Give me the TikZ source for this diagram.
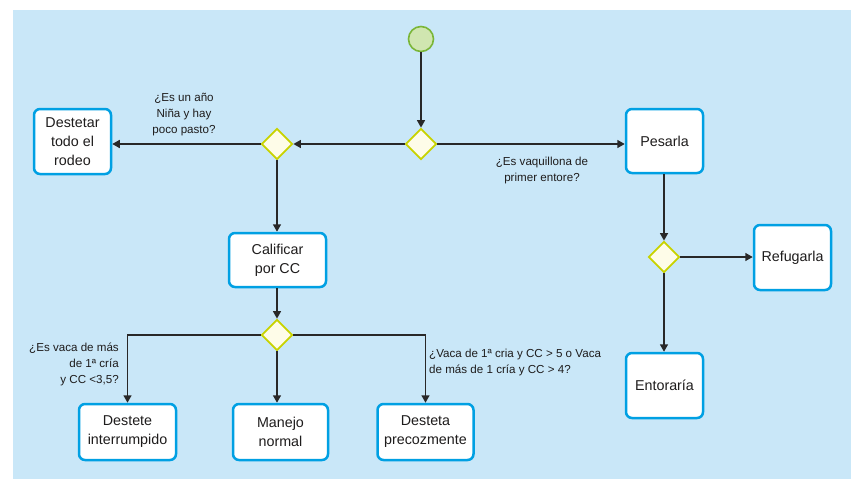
\documentclass[tikz,border=0pt]{standalone}
\usepackage{fontspec}
\setmainfont{Liberation Sans}
\usetikzlibrary{shapes.geometric,arrows.meta}
\definecolor{bgblue}{RGB}{201,231,248}
\definecolor{boxblue}{RGB}{0,160,227}
\definecolor{dfill}{RGB}{254,252,232}
\definecolor{dline}{RGB}{200,211,0}
\definecolor{sfill}{RGB}{208,230,176}
\definecolor{sline}{RGB}{122,182,56}
\definecolor{ink}{RGB}{30,28,28}
\definecolor{wire}{RGB}{40,40,40}
\tikzset{
  stepbox/.style={draw=boxblue, line width=2.5pt, fill=white, rounded corners=6pt,
    align=center, text=ink, inner sep=0pt, font=\fontsize{14.3}{19}\selectfont},
  decision/.style={diamond, aspect=1, draw=dline, line width=1.8pt, fill=dfill,
    minimum width=31pt, minimum height=31pt, inner sep=0pt},
  startnode/.style={circle, draw=sline, line width=1.6pt, fill=sfill, minimum size=25pt, inner sep=0pt},
  flow/.style={draw=wire, line width=1.5pt, -{Triangle[length=7.5pt,width=8pt]}},
  lbl/.style={text=ink, font=\fontsize{11.6}{16.2}\selectfont, inner sep=0pt}
}
\begin{document}
\begin{tikzpicture}[x=1pt,y=-1pt]
\useasboundingbox (0,0) rectangle (851,479);
\fill[bgblue] (13,10) rectangle (851,479);

\node[startnode] (start) at (421,39) {};
\node[decision] (d1) at (421,144) {};
\node[decision] (d2) at (277,144) {};
\node[decision] (d3) at (664,257) {};
\node[decision] (d4) at (277,335) {};

\node[stepbox, minimum width=77pt, minimum height=65pt] (destetar) at (72.5,141.5) {Destetar\\todo el\\rodeo};
\node[stepbox, minimum width=77pt, minimum height=64pt] (pesarla) at (664.5,141) {Pesarla};
\node[stepbox, minimum width=77pt, minimum height=65pt] (refug) at (792.5,257.5) {Refugarla};
\node[stepbox, minimum width=77pt, minimum height=65pt] (entor) at (664.5,385.5) {Entoraría};
\node[stepbox, minimum width=97pt, minimum height=54pt] (calif) at (277.5,260) {Calificar\\por CC};
\node[stepbox, minimum width=97pt, minimum height=56pt] (destete) at (127.5,432) {Destete\\interrumpido};
\node[stepbox, minimum width=95pt, minimum height=56pt] (manejo) at (280.5,432) {Manejo\\normal};
\node[stepbox, minimum width=96pt, minimum height=56pt] (desteta) at (425.5,432) {Desteta\\precozmente};

\draw[flow] (start) -- (d1);
\draw[flow] (d1.west) -- (d2.east);
\draw[flow] (d2.west) -- (d2.west -| destetar.east);
\draw[flow] (d1.east) -- (d1.east -| pesarla.west);
\draw[flow] (d2.south) -- (d2.south |- calif.north);
\draw[flow] (calif.south -| d4.north) -- (d4.north);
\draw[flow] (d4.west) -| (destete.north);
\draw[flow] (d4.south) -- (d4.south |- manejo.north);
\draw[flow] (d4.east) -| (desteta.north);
\draw[flow] (pesarla.south -| d3.north) -- (d3.north);
\draw[flow] (d3.east) -- (d3.east -| refug.west);
\draw[flow] (d3.south) -- (d3.south |- entor.north);

\node[lbl, align=center] (l1) at (184,114.5) {¿Es un año\\Niña y hay\\poco pasto?};
\node[lbl, align=center] (l2) at (542,170.5) {¿Es vaquillona de\\primer entore?};
\node[lbl, align=right, anchor=east] (l3) at (119,364.5) {¿Es vaca de más\\de 1ª cría\\y CC <3,5?};
\node[lbl, align=left, anchor=west] (l4) at (429,362.5) {¿Vaca de 1ª cria y CC > 5 o Vaca\\de más de 1 cría y CC > 4?};
\end{tikzpicture}
\end{document}
